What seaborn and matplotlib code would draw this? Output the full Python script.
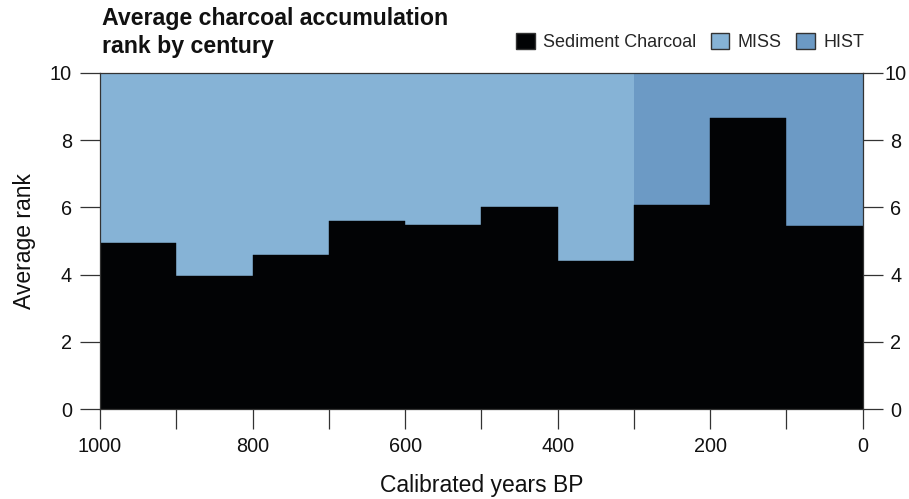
import numpy as np
import pandas as pd
import matplotlib
matplotlib.use("Agg")
import matplotlib.pyplot as plt
from matplotlib.patches import Patch
from matplotlib.transforms import ScaledTranslation
import seaborn as sns

# Century bins (calibrated years BP) and average charcoal accumulation rank
century_start = [0, 100, 200, 300, 400, 500, 600, 700, 800, 900]
avg_rank = [5.45, 8.65, 6.07, 4.41, 6.01, 5.47, 5.60, 4.58, 3.96, 4.93]

# Period shading: historic (HIST) and Mississippian (MISS)
period_names = ["HIST", "MISS"]
period_spans = [(0, 300), (300, 1000)]
period_colors = ["#6c9ac5", "#86b3d6"]
bar_color = "#020305"

x_ticks = [1000, 800, 600, 400, 200, 0]
y_ticks = [0, 2, 4, 6, 8, 10]
title_lines = ["Average charcoal accumulation", "rank by century"]

sns.set_theme(style="ticks")
plt.rcParams["font.family"] = ["Liberation Sans", "DejaVu Sans"]

df = pd.DataFrame({"year": [s + 50 for s in century_start], "rank": avg_rank})

W, H = 909, 499
fig = plt.figure(figsize=(W / 100, H / 100), dpi=100)
ax = fig.add_axes([100 / W, 1 - 409.3 / H, 762.7 / W, 336.6 / H])

for name, (a, b), c in zip(period_names, period_spans, period_colors):
    ax.axvspan(a, b, ymin=0, ymax=1, color=c, lw=0, zorder=0)

sns.histplot(data=df, x="year", weights="rank", binwidth=100, binrange=(0, 1000),
             stat="count", color=bar_color, alpha=1, edgecolor=bar_color,
             linewidth=0.3, ax=ax)

ax.set_xlim(1000, 0)
ax.set_ylim(0, 10)
ticks_all = np.arange(0, 1001, 100)
ax.set_xticks(ticks_all)
ax.set_xticklabels([str(v) if v in x_ticks else "" for v in ticks_all])
ax.set_yticks(y_ticks)
ax.tick_params(axis="both", which="major", direction="out", length=14.4, width=0.9,
               color="#333333", labelsize=14.3, pad=5.8, labelcolor="#111111")
ax.tick_params(axis="y", right=True, labelright=True)
for s in ax.spines.values():
    s.set_color("#333333")
    s.set_linewidth(0.9)
    s.set_visible(True)

ax.set_xlabel("Calibrated years BP", fontsize=16.5, labelpad=13, color="#111111")
ax.set_ylabel("Average rank", fontsize=16.5, labelpad=10, color="#111111")

# right-hand rank labels centred just outside the ticks
shift = ScaledTranslation(5 / 100, 0, fig.dpi_scale_trans)
for t in ax.yaxis.get_major_ticks():
    t.label2.set_horizontalalignment("center")
    t.label2.set_transform(t.label2.get_transform() + shift)

# two-line bold title, each line placed on its own baseline
for line, base in zip(title_lines, [25, 53]):
    fig.text(102 / W, 1 - base / H, line, fontsize=16.7, fontweight="bold",
             va="baseline", ha="left", color="#111111")

handles = [Patch(facecolor=bar_color, edgecolor="#333333", label="Sediment Charcoal"),
           Patch(facecolor=period_colors[1], edgecolor="#333333", label="MISS"),
           Patch(facecolor=period_colors[0], edgecolor="#333333", label="HIST")]
fig.legend(handles=handles, loc="center right", bbox_to_anchor=(864 / W, 1 - 42 / H),
           ncol=3, frameon=False, fontsize=13, handlelength=1.05, handleheight=1.05,
           handletextpad=0.45, columnspacing=0.8, borderaxespad=0, borderpad=0)

fig.savefig("out.png", dpi=100)
